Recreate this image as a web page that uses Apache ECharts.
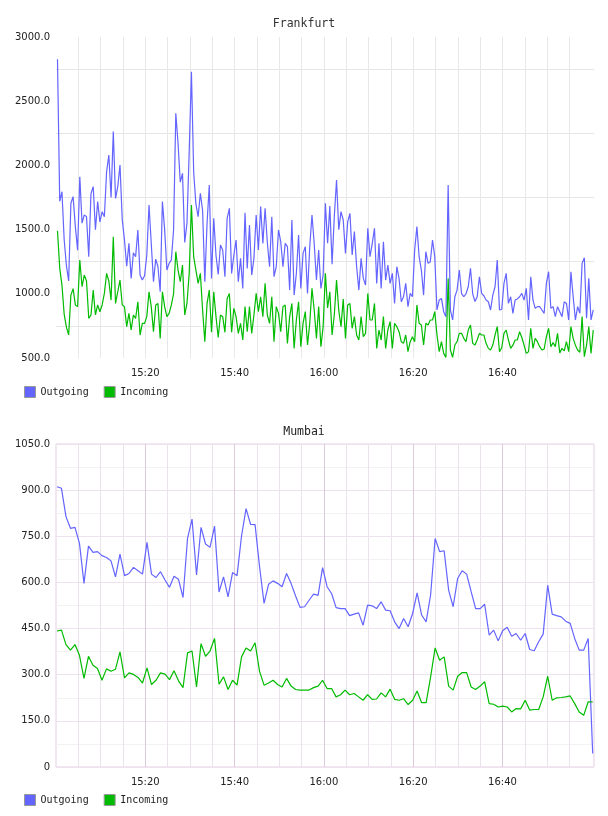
<!DOCTYPE html>
<html>
<head>
<meta charset="utf-8">
<script src="https://cdn.jsdelivr.net/npm/echarts@6/dist/echarts.min.js"></script>
<style>
  html, body { margin: 0; padding: 0; background: #fff; }
  #chart { width: 608px; height: 816px; }
</style>
</head>
<body>
<div id="chart"></div>
<script>
// x axis is minutes since 15:00
const timeLabels = ['15:20', '15:40', '16:00', '16:20', '16:40']
const fraYLabels = [500, 1000, 1500, 2000, 2500, 3000]
const mumYLabels = [0, 150, 300, 450, 600, 750, 900, 1050]

const fraFirst = '15:00:20'
const fraStepSec = 30
const fraOutgoing = [
  2827, 1720, 1795, 1420, 1220, 1100, 1705, 1757, 1523, 1340,
  1912, 1550, 1614, 1601, 1289, 1780, 1835, 1500, 1718, 1560,
  1640, 1601, 1950, 2081, 1750, 2263, 1743, 1835, 2003, 1580,
  1420, 1215, 1393, 1120, 1320, 1289, 1497, 1146, 1107, 1140,
  1300, 1692, 1393, 1094, 1270, 1211, 1016, 1718, 1500, 1185,
  1237, 1263, 1497, 2406, 2172, 1870, 1938, 1400, 1549, 2107,
  2730, 1950, 1700, 1601, 1783, 1650, 1094, 1550, 1847, 1120,
  1588, 1300, 1150, 1380, 1341, 1133, 1588, 1666, 1159, 1300,
  1419, 1094, 1276, 1042, 1632, 1198, 1536, 1146, 1276, 1614,
  1341, 1680, 1393, 1666, 1400, 1211, 1600, 1133, 1211, 1497,
  1406, 1211, 1393, 1367, 1029, 1575, 990, 1159, 1458, 1042,
  1315, 1367, 1003, 1367, 1614, 1393, 1107, 1341, 1042, 1146,
  1705,
  1393, 1684, 1230, 1601, 1886, 1500, 1640, 1575, 1315, 1560,
  1627, 1302, 1484, 1211, 1029, 1276, 1120, 1068, 1510, 1289,
  1393, 1510, 1081, 1393, 1042, 1406, 1107, 1224, 1081, 1159,
  925, 1211, 1120, 938, 977, 1081, 900, 1003, 977, 1341,
  1523, 1289, 1185, 990, 1328, 1237, 1250, 1419, 1289, 874,
  951, 964, 861, 822, 1847, 874, 796, 977, 1029, 1185,
  1003, 977, 1000, 1055, 1198, 1000, 940, 977, 1133, 1003,
  985, 951, 938, 874, 990, 1055, 1263, 874, 880, 1081,
  1159, 925, 977, 848, 951, 960, 977, 1003, 951, 1042,
  796, 1133, 951, 887, 900, 900, 874, 848, 1081, 1172,
  887, 900, 822, 900, 861, 822, 938, 925, 796, 1172,
  977, 796, 900, 848, 1237, 1280, 809, 1120, 796, 874
]
const fraIncoming = [
  1490, 1200, 1068, 840, 740, 680, 990, 1040, 913, 900,
  1263, 1055, 1146, 1100, 809, 835, 1029, 835, 913, 860,
  913, 1003, 1159, 1100, 951, 1445, 925, 1016, 1107, 913,
  900, 744, 848, 718, 835, 809, 938, 679, 770, 770,
  822, 1016, 900, 705, 913, 925, 653, 1016, 900, 822,
  848, 913, 1000, 1328, 1185, 1094, 1224, 835, 925, 1159,
  1692, 1289, 1185, 1081, 1159, 874, 627, 925, 1029, 700,
  1016, 822, 660, 835, 822, 700, 964, 1003, 700, 887,
  822, 692, 770, 640, 900, 705, 900, 692, 835, 1003,
  861, 977, 822, 1081, 835, 770, 977, 627, 900, 848,
  705, 900, 913, 614, 822, 925, 575, 796, 938, 588,
  770, 861, 601, 770, 1042, 874, 653, 900, 588, 744,
  1159,
  890, 1016, 679, 835, 1107, 870, 744, 960, 653, 913,
  925, 731, 822, 679, 640, 822, 666, 692, 1003, 796,
  796, 925, 575, 718, 640, 822, 575, 720, 783, 575,
  770, 744, 705, 627, 614, 679, 549, 627, 666, 627,
  913, 770, 757, 601, 770, 757, 796, 796, 861, 679,
  549, 627, 536, 505, 1120, 562, 505, 601, 627, 692,
  692, 653, 627, 718, 757, 614, 601, 640, 692, 679,
  679, 614, 575, 562, 601, 679, 744, 549, 580, 692,
  718, 640, 575, 600, 640, 640, 705, 660, 601, 536,
  549, 731, 575, 653, 627, 588, 562, 570, 666, 731,
  588, 620, 588, 692, 540, 575, 555, 627, 550, 744,
  653, 600, 562, 545, 822, 510, 600, 744, 536, 718
]

const mumFirst = '15:00:13'
const mumStepSec = 60.5
const mumOutgoing = [
  911, 906, 814, 776, 779, 727, 597, 718, 698, 700,
  687, 681, 670, 618, 692, 622, 629, 649, 638, 627,
  730, 627, 616, 635, 608, 584, 620, 610, 551, 743,
  806, 624, 779, 725, 714, 783, 569, 618, 553, 632,
  622, 751, 840, 789, 788, 651, 532, 594, 605, 597,
  586, 629, 597, 556, 519, 521,
  542, 562, 558, 648, 586, 564, 518, 515, 515, 492,
  497, 501, 461, 526, 524, 515, 537, 510, 508, 472,
  450, 483, 456, 499, 566, 494, 472, 560, 743, 700,
  703, 575, 521, 613, 638, 627, 570, 515, 515, 529,
  429, 445, 410, 443, 454, 425, 434, 412, 434, 382,
  378, 407, 432, 591, 497, 492, 488, 474, 467, 418,
  380, 380, 418, 44
]
const mumIncoming = [
  442, 445, 398, 380, 398, 363, 288, 360, 331, 320,
  282, 319, 311, 318, 374, 290, 306, 301, 291, 273,
  322, 268, 282, 306, 302, 284, 313, 280, 258, 371,
  377, 260, 401, 360, 377, 418, 269, 293, 252, 282,
  266, 358, 387, 377, 404, 311, 266, 273, 282, 268,
  260, 288, 263, 252, 250, 250,
  250, 258, 263, 282, 255, 255, 228, 235, 250, 235,
  239, 228, 217, 235, 220, 221, 241, 228, 253, 220,
  217, 222, 203, 217, 247, 209, 209, 293, 387, 347,
  358, 263, 250, 295, 307, 307, 260, 252, 263, 277,
  206, 204, 195, 198, 195, 179, 190, 189, 217, 185,
  187, 187, 228, 295, 217, 225, 226, 228, 231, 206,
  179, 168, 212, 212
]

const BLUE = '#6464ff'
const GREEN = '#00bb00'

function toMin(s) {
  const p = s.split(':').map(Number)
  return (p[0] - 15) * 60 + p[1] + (p[2] || 0) / 60
}

function pairs(first, stepSec, values) {
  const t0 = toMin(first)
  return values.map((v, i) => [t0 + i * stepSec / 60, v])
}

function fmtTime(v) {
  const total = Math.round(v)
  const h = 15 + Math.floor(total / 60)
  const m = total % 60
  return (h < 10 ? '0' : '') + h + ':' + (m < 10 ? '0' : '') + m
}

// 5 minute grid lines, without the two ends
const fiveMin = []
for (let m = 5; m < 120; m += 5) fiveMin.push(m)
const labelMins = timeLabels.map(toMin)

const labelFont = { fontFamily: 'DejaVu Sans', fontSize: 10, color: '#222' }
const monoFont = 'DejaVu Sans Mono'

function xAxis(gridIndex, lineColor) {
  return {
    type: 'value',
    gridIndex,
    min: 0,
    max: 120.5,
    axisLine: { show: false },
    axisTick: { show: false, customValues: fiveMin },
    axisLabel: Object.assign({ customValues: labelMins, margin: 10, formatter: fmtTime }, labelFont),
    splitLine: { show: true, lineStyle: { color: lineColor, width: 1 } }
  }
}

function legend(top) {
  return {
    left: 24, top, padding: 0, itemWidth: 11, itemHeight: 11, itemGap: 15, icon: 'rect',
    itemStyle: { borderColor: '#999', borderWidth: 1 },
    textStyle: { fontFamily: monoFont, fontSize: 10, color: '#222' },
    data: ['Outgoing', 'Incoming']
  }
}

const chart = echarts.init(document.getElementById('chart'))

chart.setOption({
  animation: false,
  backgroundColor: '#fff',
  title: [
    { text: 'Frankfurt', left: 'center', top: 13,
      textStyle: { fontFamily: monoFont, fontSize: 11.5, fontWeight: 'normal', color: '#333' } },
    { text: 'Mumbai', left: 'center', top: 421,
      textStyle: { fontFamily: monoFont, fontSize: 11.5, fontWeight: 'normal', color: '#222' } }
  ],
  legend: [legend(386), legend(794)],
  grid: [
    { left: 56, right: 14, top: 37, height: 321 },
    { left: 56, right: 14, top: 444, height: 323, show: true,
      borderColor: '#e4d0e4', borderWidth: 1, backgroundColor: 'transparent' }
  ],
  xAxis: [
    xAxis(0, '#e8e8e8'),
    xAxis(1, ['#ebe3eb', '#ebe3eb', '#ebe3eb', '#dccadc'])
  ],
  yAxis: [
    {
      type: 'value', gridIndex: 0,
      min: fraYLabels[0], max: fraYLabels[fraYLabels.length - 1], interval: 500,
      axisLine: { show: false }, axisTick: { show: false },
      axisLabel: Object.assign({ margin: 6, formatter: v => v.toFixed(1) }, labelFont),
      splitLine: { show: false },
      minorTick: { show: false, splitNumber: 2 },
      minorSplitLine: { show: true, lineStyle: { color: '#e6e6e6', width: 1 } }
    },
    {
      type: 'value', gridIndex: 1,
      min: mumYLabels[0], max: mumYLabels[mumYLabels.length - 1], interval: 150,
      axisLine: { show: false }, axisTick: { show: false },
      axisLabel: Object.assign({ margin: 6, formatter: v => (v === 0 ? '0' : v.toFixed(1)) }, labelFont),
      splitLine: { show: true, lineStyle: { color: '#efe2ef', width: 1 } },
      minorTick: { show: false, splitNumber: 2 },
      minorSplitLine: { show: true, lineStyle: { color: '#f2f2f2', width: 1 } }
    }
  ],
  series: [
    { name: 'Outgoing', type: 'line', xAxisIndex: 0, yAxisIndex: 0, symbol: 'none',
      color: BLUE, lineStyle: { width: 1.2 }, data: pairs(fraFirst, fraStepSec, fraOutgoing) },
    { name: 'Incoming', type: 'line', xAxisIndex: 0, yAxisIndex: 0, symbol: 'none',
      color: GREEN, lineStyle: { width: 1.2 }, data: pairs(fraFirst, fraStepSec, fraIncoming) },
    { name: 'Outgoing', type: 'line', xAxisIndex: 1, yAxisIndex: 1, symbol: 'none',
      color: BLUE, lineStyle: { width: 1.2 }, data: pairs(mumFirst, mumStepSec, mumOutgoing) },
    { name: 'Incoming', type: 'line', xAxisIndex: 1, yAxisIndex: 1, symbol: 'none',
      color: GREEN, lineStyle: { width: 1.2 }, data: pairs(mumFirst, mumStepSec, mumIncoming) }
  ]
})
</script>
</body>
</html>
